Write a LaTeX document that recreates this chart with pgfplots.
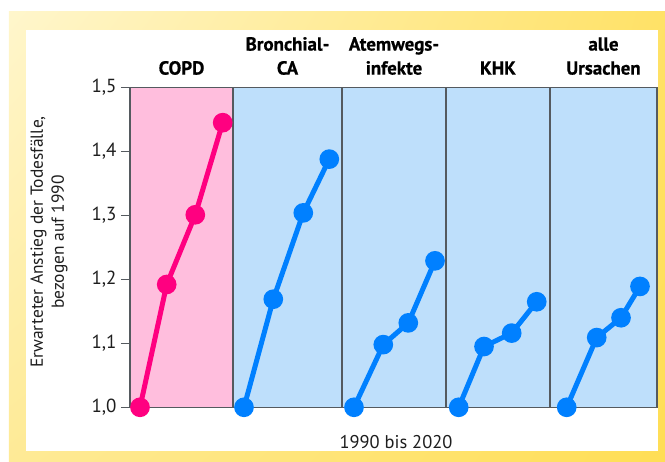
\documentclass[border=0pt]{standalone}
\usepackage{fontspec}
\setmainfont{PT Sans}
\newfontfamily\headfont[FakeBold=0.6]{PT Sans Bold}
\usepackage{pgfplots}
\pgfplotsset{compat=1.18}
\usetikzlibrary{shadings}

\definecolor{pinkbg}{RGB}{255,190,221}
\definecolor{bluebg}{RGB}{190,223,251}
\definecolor{copdline}{RGB}{255,0,128}
\definecolor{blueline}{RGB}{0,128,255}
\definecolor{axisgray}{RGB}{85,90,95}
\definecolor{textgray}{RGB}{30,30,30}
\definecolor{framepale}{RGB}{255,246,204}
\definecolor{framemid}{RGB}{254,234,150}
\definecolor{framedeep}{RGB}{255,222,85}

% category heading above a panel (one or two lines)
\newcommand\cathead[3]{%
  \node[anchor=base, font=\fontsize{19}{22}\selectfont\headfont, text=black, yshift=12.9bp]
    at (axis cs:#1,1.5) {#3};
  \node[anchor=base, font=\fontsize{19}{22}\selectfont\headfont, text=black, yshift=36.9bp]
    at (axis cs:#1,1.5) {#2};
}

\begin{document}
\begin{tikzpicture}
  % yellow frame around the chart
  \begin{scope}[x=1bp,y=1bp]
    \useasboundingbox (-130,-54.7) rectangle (535,407.3);
    \shade[upper left=framepale, upper right=framedeep!85!framepale,
           lower left=framemid, lower right=framedeep]
      (-121,-54.7) rectangle (535,395.3);
    \fill[white] (-104,-43.7) rectangle (528,377.3);
  \end{scope}

  \begin{axis}[
    scale only axis,
    width=527bp, height=319.8bp,
    xmin=0, xmax=527, ymin=1.0, ymax=1.5,
    clip=false,
    axis line style={draw=axisgray, line width=1.2bp},
    xtick=\empty,
    ytick={1.0,1.1,1.2,1.3,1.4,1.5},
    ytick pos=left,
    tick align=outside,
    major tick length=9bp,
    tick style={draw=axisgray, line width=1.2bp},
    yticklabel style={font=\fontsize{19}{21}\selectfont, text=textgray, xshift=-1bp},
    /pgf/number format/.cd, use comma, fixed, fixed zerofill, precision=1,
      assume math mode=true,
    /pgfplots/.cd,
    ylabel={Erwarteter Anstieg der Todesfälle,\\bezogen auf 1990},
    ylabel style={at={(axis description cs:-0.1537,0.517)}, anchor=center,
      align=center, font=\fontsize{17.5}{21}\selectfont, text=textgray},
    xlabel={1990 bis 2020},
    xlabel style={at={(axis description cs:0.5047,-0.128)}, anchor=base,
      font=\fontsize{18.5}{20}\selectfont, text=textgray},
  ]
    % panel backgrounds
    \addplot[fill=pinkbg, draw=none] coordinates {(0,1.0) (0,1.5) (103,1.5) (103,1.0)} -- cycle;
    \addplot[fill=bluebg, draw=none] coordinates {(103,1.0) (103,1.5) (527,1.5) (527,1.0)} -- cycle;

    % panel dividers and outer box
    \addplot[axisgray, line width=1.2bp] coordinates {(103,1.0) (103,1.5)};
    \addplot[axisgray, line width=1.2bp] coordinates {(212,1.0) (212,1.5)};
    \addplot[axisgray, line width=1.2bp] coordinates {(316,1.0) (316,1.5)};
    \addplot[axisgray, line width=1.2bp] coordinates {(420,1.0) (420,1.5)};
    \addplot[axisgray, line width=1.2bp] coordinates {(0,1.0) (0,1.5) (527,1.5) (527,1.0) (0,1.0)};

    % COPD
    \addplot[copdline, line width=5bp, mark=*, mark size=7.3bp,
      mark options={fill=copdline, draw=none}]
      coordinates {(10,1.0) (36.7,1.192) (65.3,1.301) (92.7,1.445)};
    % Bronchial-CA
    \addplot[blueline, line width=5bp, mark=*, mark size=7.3bp,
      mark options={fill=blueline, draw=none}]
      coordinates {(114,1.0) (143.3,1.169) (173.3,1.304) (199.3,1.388)};
    % Atemwegsinfekte
    \addplot[blueline, line width=5bp, mark=*, mark size=7.3bp,
      mark options={fill=blueline, draw=none}]
      coordinates {(224,1.0) (253.3,1.098) (278.3,1.132) (305,1.229)};
    % KHK
    \addplot[blueline, line width=5bp, mark=*, mark size=7.3bp,
      mark options={fill=blueline, draw=none}]
      coordinates {(328.7,1.0) (354,1.095) (381.7,1.116) (406.7,1.165)};
    % alle Ursachen
    \addplot[blueline, line width=5bp, mark=*, mark size=7.3bp,
      mark options={fill=blueline, draw=none}]
      coordinates {(436.7,1.0) (466.7,1.109) (491,1.14) (510,1.189)};

    % headings
    \node[anchor=base, font=\fontsize{19}{22}\selectfont\headfont, text=black, yshift=12.9bp]
      at (axis cs:51.5,1.5) {COPD};
    \cathead{157.5}{Bronchial-}{CA}
    \cathead{264}{Atemwegs-}{infekte}
    \node[anchor=base, font=\fontsize{19}{22}\selectfont\headfont, text=black, yshift=12.9bp]
      at (axis cs:368,1.5) {KHK};
    \cathead{473.5}{alle}{Ursachen}
  \end{axis}
\end{tikzpicture}
\end{document}
